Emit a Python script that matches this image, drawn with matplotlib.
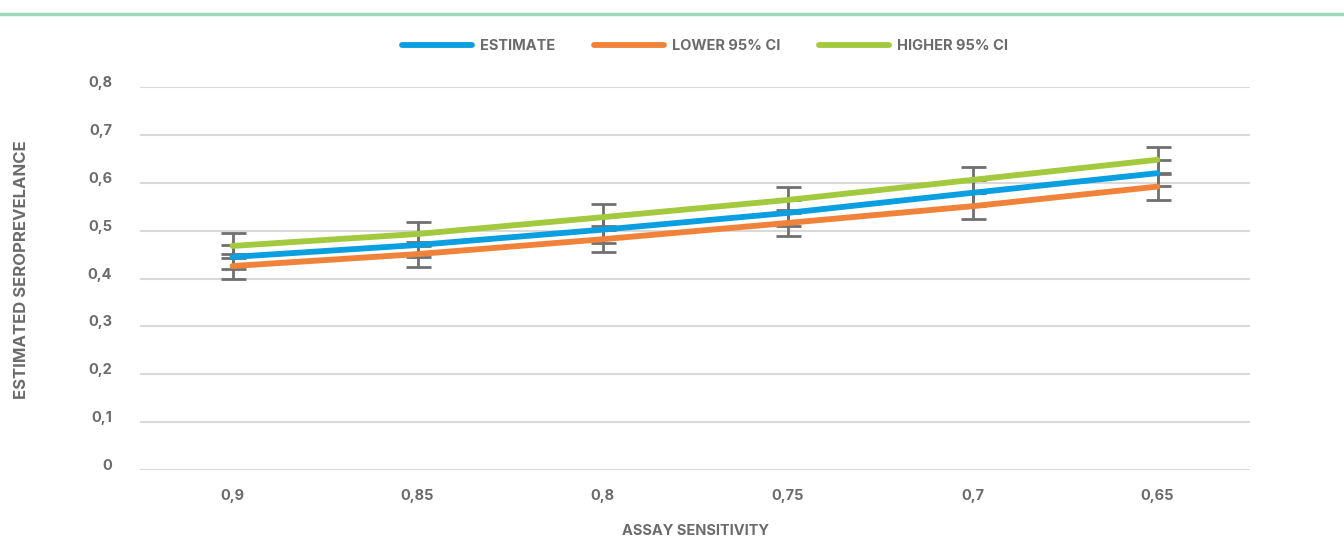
import matplotlib.pyplot as plt

sensitivity = ["0,9", "0,85", "0,8", "0,75", "0,7", "0,65"]
estimate = [0.445, 0.470, 0.502, 0.537, 0.579, 0.620]
lower_ci = [0.426, 0.451, 0.482, 0.516, 0.551, 0.592]
higher_ci = [0.468, 0.493, 0.528, 0.564, 0.606, 0.648]
err = [0.026, 0.026, 0.027, 0.027, 0.027, 0.027]

y_ticks = [0, 0.1, 0.2, 0.3, 0.4, 0.5, 0.6, 0.7, 0.8]
y_labels = ["0", "0,1", "0,2", "0,3", "0,4", "0,5", "0,6", "0,7", "0,8"]

colors = {"ESTIMATE": "#0a9fe0", "LOWER 95% CI": "#f1823a", "HIGHER 95% CI": "#a3c93e"}
text_col = "#6b6b6b"

plt.rcParams['font.family'] = ['Inter', 'DejaVu Sans']
wt = "bold"
fs = 10.5

fig = plt.figure(figsize=(13.44, 5.59), dpi=100, facecolor="white")
ax = fig.add_axes([140 / 1344, 1 - 470 / 559, 1110 / 1344, 383 / 559])

x = list(range(len(sensitivity)))
for name, vals in [("ESTIMATE", estimate), ("LOWER 95% CI", lower_ci), ("HIGHER 95% CI", higher_ci)]:
    ax.errorbar(x, vals, yerr=err, fmt="none", ecolor="#707070", elinewidth=2,
                capsize=9, capthick=2, zorder=2)
    ax.plot(x, vals, color=colors[name], lw=4.2, solid_capstyle="round", label=name, zorder=3)

ax.set_xlim(-0.5, len(sensitivity) - 0.5)
ax.set_ylim(0, 0.8)
ax.set_yticks(y_ticks)
ax.set_yticklabels(y_labels)
ax.set_xticks(x)
ax.set_xticklabels(sensitivity)
ax.grid(axis="y", color="#d9d9d9", lw=1.5)
ax.set_axisbelow(True)
for s in ax.spines.values():
    s.set_visible(False)
ax.tick_params(length=0, colors=text_col, labelsize=fs)
ax.tick_params(axis="y", pad=20)
ax.tick_params(axis="x", pad=14)
for lab in ax.get_xticklabels() + ax.get_yticklabels():
    lab.set_fontweight(wt)
    lab.set_color(text_col)
for lab in ax.get_yticklabels():
    lab.set_va("baseline")

ax.set_xlabel("ASSAY SENSITIVITY", fontsize=fs, fontweight=wt, color=text_col, labelpad=15)
fig.text(22 / 1344, 1 - 270 / 559, "ESTIMATED SEROPREVELANCE", rotation=90, ha="center", va="center",
         fontsize=12, fontweight=wt, color=text_col)

leg = fig.legend(loc="center", bbox_to_anchor=(705 / 1344, 1 - 46 / 559), ncol=3, frameon=False,
                 fontsize=fs, handlelength=4.8, columnspacing=2.7, handletextpad=0.5)
for t in leg.get_texts():
    t.set_color(text_col)
    t.set_fontweight(wt)

fig.add_artist(plt.Line2D([0, 1], [1 - 14 / 559, 1 - 14 / 559], color="#a0d6bb", lw=2.5,
                          transform=fig.transFigure))

fig.savefig("out.png", dpi=100, facecolor="white")
